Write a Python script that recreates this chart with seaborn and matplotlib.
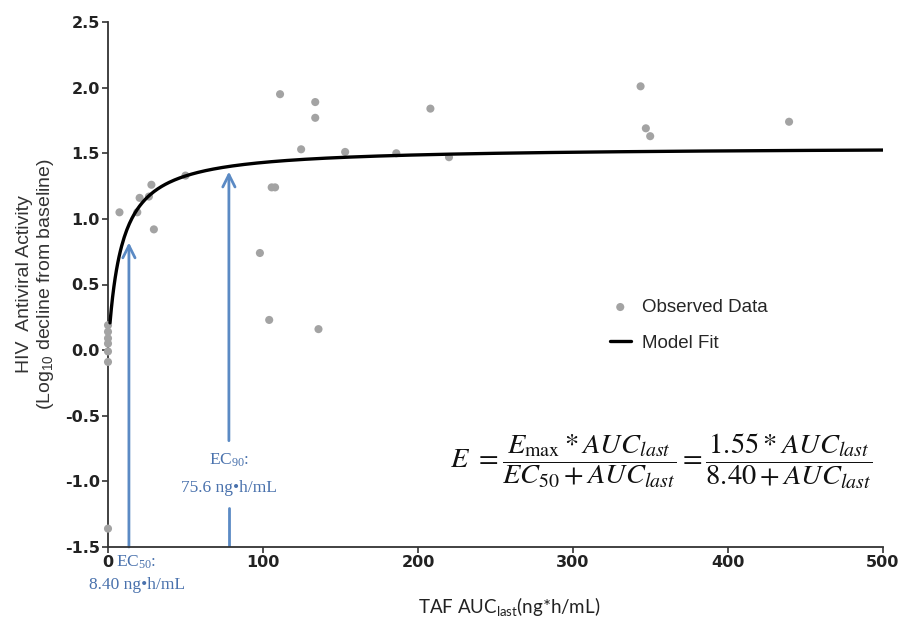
import numpy as np
import pandas as pd
import matplotlib
matplotlib.use("Agg")
import matplotlib.pyplot as plt
import seaborn as sns

# ---- data ----
obs_auc = [0, 0, 0, 0, 0, 0, 0,
           7.4, 18.9, 20.4, 26.4, 28.0, 29.6, 50.0,
           98.0, 104.0, 105.6, 107.8, 111.0, 124.6, 133.7, 133.7, 135.8,
           153.0, 186.0, 208.0, 220.0, 343.6, 347.0, 349.8, 439.4]
obs_eff = [0.19, 0.14, 0.09, 0.05, -0.01, -0.09, -1.36,
           1.05, 1.05, 1.16, 1.17, 1.26, 0.92, 1.33,
           0.74, 0.23, 1.24, 1.24, 1.95, 1.53, 1.89, 1.77, 0.16,
           1.51, 1.50, 1.84, 1.47, 2.01, 1.69, 1.63, 1.74]

emax = 1.55
ec50 = 8.40
ec90 = 75.6
fit_auc_min = 1.3
fit_auc_max = 500

x_ticks = [0, 100, 200, 300, 400, 500]
y_ticks = [-1.5, -1.0, -0.5, 0.0, 0.5, 1.0, 1.5, 2.0, 2.5]

# arrow positions as drawn in the picture
ec50_arrow_x, ec50_arrow_tip = 13.5, 0.82
ec90_arrow_x, ec90_arrow_tip = 78.0, 1.36

obs = pd.DataFrame({"auc": obs_auc, "eff": obs_eff})
fit_x = np.linspace(fit_auc_min, fit_auc_max, 600)
fit = pd.DataFrame({"auc": fit_x, "eff": emax * fit_x / (ec50 + fit_x)})

sns.set_theme(style="ticks")
plt.rcParams["axes.unicode_minus"] = False

fig = plt.figure(figsize=(9.03, 6.24), dpi=100)
ax = fig.add_axes([108 / 903, 1 - 547 / 624, (883 - 108) / 903, (547 - 22) / 624])

sns.scatterplot(data=obs, x="auc", y="eff", ax=ax, color="#a3a3a3", s=34,
                edgecolor="none", label="Observed Data", zorder=3, clip_on=False)
sns.lineplot(data=fit, x="auc", y="eff", ax=ax, color="black", lw=2.4,
             label="Model Fit", zorder=4)

ax.set_xlim(0, 500)
ax.set_ylim(-1.5, 2.5)
ax.set_xticks(x_ticks)
ax.set_xticklabels([str(v) for v in x_ticks])
ax.set_yticks(y_ticks)
ax.set_yticklabels([f"{v:.1f}" for v in y_ticks])
for lab in ax.get_xticklabels() + ax.get_yticklabels():
    lab.set_fontfamily("DejaVu Sans")
    lab.set_fontweight("bold")
    lab.set_fontsize(11.5)
    lab.set_color("#222222")
ax.tick_params(axis="both", length=4, width=1.2, color="#333333", pad=2)
for sp in ["left", "bottom"]:
    ax.spines[sp].set_linewidth(1.3)
    ax.spines[sp].set_color("#333333")
sns.despine(ax=ax)

ax.set_ylabel("HIV  Antiviral Activity\n(Log$\\mathregular{_{10}}$ decline from baseline)",
              fontsize=14, family="Liberation Sans", color="#333333", labelpad=6,
              linespacing=1.15)
ax.set_xlabel("TAF AUC$\\mathregular{_{last}}$(ng*h/mL)", fontsize=13.5,
              family="Lato", color="#222222")
ax.xaxis.set_label_coords(0.518, -0.092)

leg = ax.legend(frameon=False, loc="upper left", bbox_to_anchor=(0.638, 0.487),
                prop={"family": "Liberation Sans", "size": 13.5},
                handlelength=1.1, handletextpad=0.6, labelspacing=1.0,
                borderaxespad=0)

blue = "#5b8ac4"
tblue = "#4a72ad"
# EC50 arrow
ax.annotate("", xy=(ec50_arrow_x, ec50_arrow_tip), xytext=(ec50_arrow_x, -1.5),
            arrowprops=dict(arrowstyle="->", color=blue, lw=2.0, mutation_scale=22,
                            shrinkA=0, shrinkB=0), zorder=2)
# EC90 arrow with gap for label
ax.annotate("", xy=(ec90_arrow_x, ec90_arrow_tip), xytext=(ec90_arrow_x, -0.69),
            arrowprops=dict(arrowstyle="->", color=blue, lw=2.0, mutation_scale=22,
                            shrinkA=0, shrinkB=0), zorder=2)
ax.plot([ec90_arrow_x, ec90_arrow_x], [-1.5, -1.2], color=blue, lw=2.0, zorder=2)

ax.text(ec90_arrow_x, -0.84, "EC$\\mathregular{_{90}}$:", ha="center", va="center",
        family="Liberation Serif", fontsize=12.5, color=tblue)
ax.text(ec90_arrow_x, -1.05, "75.6 ng•h/mL", ha="center", va="center",
        family="Liberation Serif", fontsize=12.5, color=tblue)
ax.text(5, -1.62, "EC$\\mathregular{_{50}}$:", ha="left", va="center",
        family="Liberation Serif", fontsize=12.5, color=tblue, clip_on=False)
ax.text(19, -1.79, "8.40 ng•h/mL", ha="center", va="center",
        family="Liberation Serif", fontsize=12.5, color=tblue, clip_on=False)

eq = (r"$E\ =\dfrac{E_{\mathrm{max}}*AUC_{last}}{EC_{50}+AUC_{last}}"
      r"=\dfrac{1.55*AUC_{last}}{8.40+AUC_{last}}$")
ax.text(357, -0.85, eq, ha="center", va="center", fontsize=20.5,
        math_fontfamily="stix", color="#111111")

fig.savefig("out.png", dpi=100)
